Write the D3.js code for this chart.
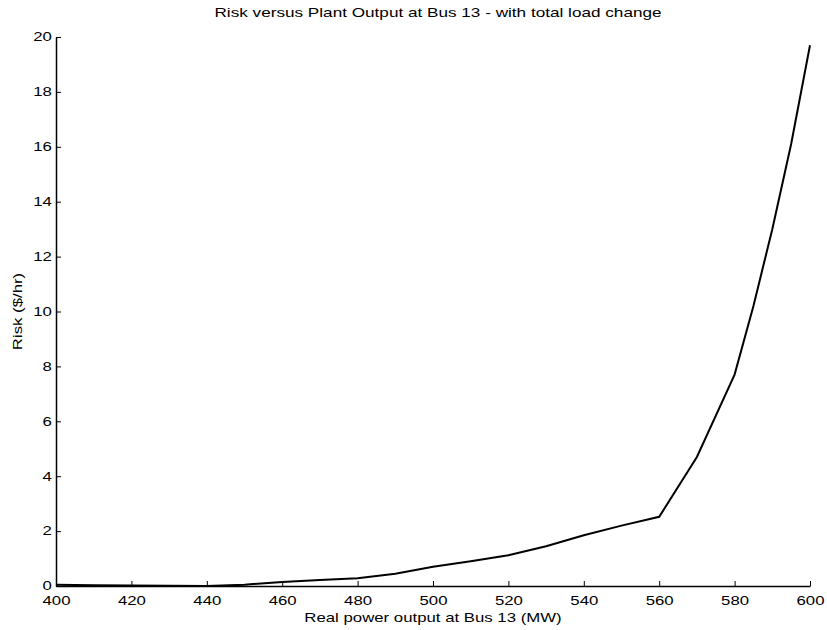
<!DOCTYPE html>
<html>
<head>
<meta charset="utf-8">
<script src="https://cdn.jsdelivr.net/npm/d3@7"></script>
<style>
  body { margin: 0; background: #fff; }
  text { font-family: "Liberation Sans", Arial, sans-serif; fill: #000; }
</style>
</head>
<body>
<div id="chart"></div>
<script>
// plant output (MW) and risk ($/hr)
var output = [400, 410, 420, 430, 440, 450, 460, 470, 480, 490, 500, 510, 520, 530, 540, 550, 560, 570, 580, 585, 590, 595, 600];
var risk   = [0.05, 0.03, 0.02, 0.01, 0, 0.05, 0.15, 0.22, 0.28, 0.45, 0.7, 0.9, 1.12, 1.45, 1.85, 2.2, 2.52, 4.7, 7.7, 10.2, 13.0, 16.1, 19.7];
var xTicks = [400, 420, 440, 460, 480, 500, 520, 540, 560, 580, 600];
var yTicks = [0, 2, 4, 6, 8, 10, 12, 14, 16, 18, 20];

var width = 827, height = 630;
var plotLeft = 56, plotRight = 810, plotTop = 37, plotBottom = 586;
// the scanned text is stretched sideways
var stretch = 1.4;

var svg = d3.select("#chart").append("svg")
  .attr("width", width)
  .attr("height", height);

var x = d3.scaleLinear().domain([400, 600]).range([plotLeft, plotRight]);
var y = d3.scaleLinear().domain([0, 20]).range([plotBottom, plotTop]);

// inward ticks like the old matlab plot
var xAxis = svg.append("g")
  .attr("transform", "translate(0," + plotBottom + ")")
  .call(d3.axisBottom(x).tickValues(xTicks).tickSize(-5).tickPadding(10).tickSizeOuter(0));
var yAxis = svg.append("g")
  .attr("transform", "translate(" + plotLeft + ",0)")
  .call(d3.axisLeft(y).tickValues(yTicks).tickSize(-5).tickPadding(3).tickSizeOuter(0));

[xAxis, yAxis].forEach(function (g) {
  g.select(".domain").attr("stroke", "#000").attr("stroke-width", 1.5);
  g.selectAll(".tick line").attr("stroke", "#000").attr("stroke-width", 1);
  g.selectAll(".tick text")
    .style("font-size", "12px")
    .attr("fill", "#000")
    .attr("transform", "scale(" + stretch + ",1)");
});

var line = d3.line()
  .x(function (d, i) { return x(output[i]); })
  .y(function (d) { return y(d); });

svg.append("path")
  .datum(risk)
  .attr("fill", "none")
  .attr("stroke", "#000")
  .attr("stroke-width", 2)
  .attr("d", line);

svg.append("text")
  .attr("transform", "translate(438,17) scale(1.43,1)")
  .attr("text-anchor", "middle")
  .style("font-size", "12px")
  .text("Risk versus Plant Output at Bus 13 - with total load change");

svg.append("text")
  .attr("transform", "translate(" + (plotLeft + plotRight) / 2 + ",622) scale(" + stretch + ",1)")
  .attr("text-anchor", "middle")
  .style("font-size", "12px")
  .text("Real power output at Bus 13 (MW)");

svg.append("text")
  .attr("transform", "translate(22," + (plotTop + plotBottom) / 2 + ") rotate(-90) scale(1.4,1)")
  .attr("text-anchor", "middle")
  .style("font-size", "12px")
  .text("Risk ($/hr)");
</script>
</body>
</html>
